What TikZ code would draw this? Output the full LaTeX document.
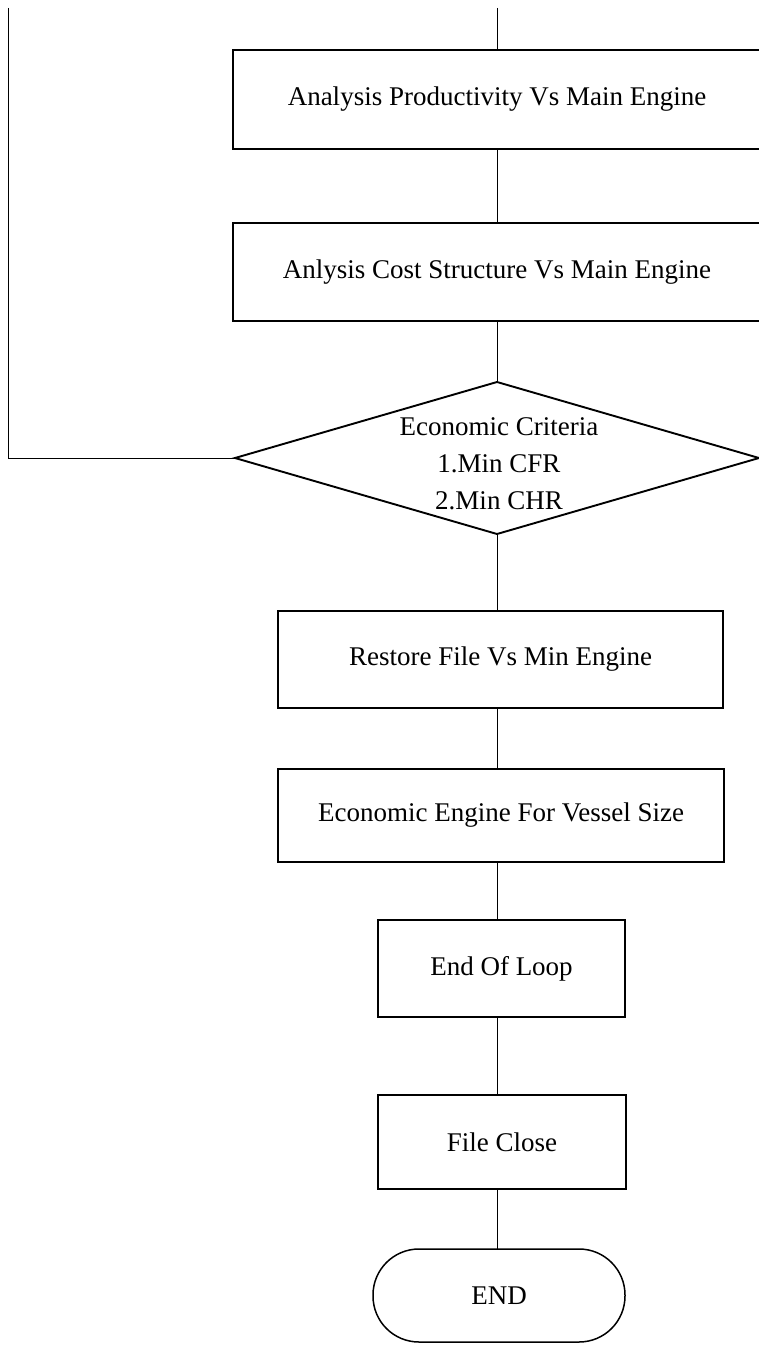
\documentclass[tikz,border=0pt]{standalone}
\usepackage{fontspec}
\setmainfont{Liberation Serif}
\usetikzlibrary{shapes.geometric}
\begin{document}
\begin{tikzpicture}[x=1pt,y=-1pt,
  every node/.style={font=\fontsize{27}{37}\selectfont, inner sep=0pt, outer sep=0pt},
  procbox/.style={draw, line width=1.7pt, rectangle, align=center},
  decision/.style={draw, line width=1.9pt, diamond, minimum width=524pt, minimum height=152pt},
  terminal/.style={draw, line width=1.5pt, rectangle, rounded corners=46pt, minimum width=252pt, minimum height=93pt},
  link/.style={draw, line width=1pt}]
\useasboundingbox (0,0) rectangle (758,1346);

% process steps
\node[procbox, minimum width=528pt, minimum height=99pt] (prod) at (497,99.5) {Analysis Productivity Vs Main Engine};
\node[procbox, minimum width=528pt, minimum height=98pt] (cost) at (497,272) {Anlysis Cost Structure Vs Main Engine};
\node[decision] (crit) at (497,458) {};
\node[align=center] (crittext) at (499,464) {Economic Criteria\\1.Min CFR\\2.Min CHR};
\node[procbox, minimum width=445pt, minimum height=97pt] (restore) at (500.5,659.5) {Restore File Vs Min Engine};
\node[procbox, minimum width=446pt, minimum height=93pt] (econ) at (501,815.5) {Economic Engine For Vessel Size};
\node[procbox, minimum width=247pt, minimum height=97pt] (loopend) at (501.5,968.5) {End Of Loop};
\node[procbox, minimum width=248pt, minimum height=94pt] (fclose) at (502,1142) {File Close};
\node[terminal] (stop) at (499,1295.5) {END};

% free ends of the incoming flow and the loop-back path
\coordinate (entry) at (497,8);
\coordinate (looptop) at (8,8);

% connectors
\draw[link] (entry) -- (entry |- prod.north);
\draw[link] (prod.south -| entry) -- (cost.north -| entry);
\draw[link] (cost.south -| entry) -- (crit.north);
\draw[link] (crit.south) -- (crit.south |- restore.north);
\draw[link] (restore.south -| entry) -- (econ.north -| entry);
\draw[link] (econ.south -| entry) -- (loopend.north -| entry);
\draw[link] (loopend.south -| entry) -- (fclose.north -| entry);
\draw[link] (fclose.south -| entry) -- (stop.north -| entry);
\draw[link] (looptop) -- (looptop |- crit.west) -- (crit.west);
\end{tikzpicture}
\end{document}
